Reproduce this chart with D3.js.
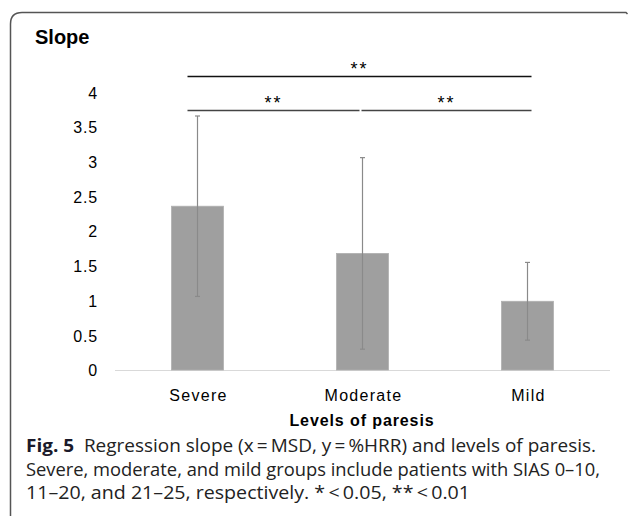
<!DOCTYPE html>
<html><head><meta charset="utf-8">
<script src="https://cdn.jsdelivr.net/npm/d3@7"></script>
<style>body{margin:0;background:#fff}svg{display:block}</style>
</head><body>
<svg id="c" width="629" height="521"></svg>
<script>
const categories = ["Severe", "Moderate", "Mild"];
const slopes = [2.36, 1.68, 0.99];
const errors = [1.30, 1.38, 0.56];
const yTicks = [0, 0.5, 1, 1.5, 2, 2.5, 3, 3.5, 4];
const sigPairs = [["Severe", "Mild", "**", 0], ["Severe", "Moderate", "**", 1], ["Moderate", "Mild", "**", 1]];
const captionLines = [
  ["Fig. 5", "  Regression slope (x\u2009=\u2009MSD, y\u2009=\u2009%HRR) and levels of paresis."],
  ["", "Severe, moderate, and mild groups include patients with SIAS 0\u201310,"],
  ["", "11\u201320, and 21\u201325, respectively. *\u2009<\u20090.05, **\u2009<\u20090.01"]
];

const svg = d3.select("#c");
const font = "'Liberation Sans', Arial, Helvetica, sans-serif";

// frame
svg.append("path")
  .attr("d", "M10.5,516 L10.5,24 Q10.5,12.5 22,12.5 L626,12.5 L627.5,14")
  .attr("fill", "none").attr("stroke", "#555").attr("stroke-width", 1.5);

const x = d3.scaleBand().domain(categories).range([115, 610]).paddingInner(0.685).paddingOuter(0.3425);
const y = d3.scaleLinear().domain([0, 4]).range([370, 92.4]);

// title
svg.append("text").attr("x", 35).attr("y", 44).text("Slope")
  .attr("font-family", font).attr("font-weight", "bold").attr("font-size", 20).attr("fill", "#000");

// y axis labels
const yAxis = d3.axisLeft(y).tickValues(yTicks).tickSize(0).tickPadding(0).tickFormat(d3.format("~g"));
const ga = svg.append("g").attr("transform", "translate(98,0)").call(yAxis);
ga.select(".domain").remove();
ga.selectAll("text").attr("font-family", font).attr("font-size", 16).attr("letter-spacing", 0.8)
  .attr("fill", "#000").attr("dy", "0.36em");

// baseline
svg.append("line").attr("x1", 115).attr("x2", 610).attr("y1", y(0) + 0.5).attr("y2", y(0) + 0.5)
  .attr("stroke", "#d9d9d9").attr("stroke-width", 1);

// bars
svg.selectAll("rect.bar").data(categories).join("rect").attr("class", "bar")
  .attr("x", d => x(d)).attr("width", x.bandwidth())
  .attr("y", (d, i) => y(slopes[i])).attr("height", (d, i) => y(0) - y(slopes[i]))
  .attr("fill", "#9f9f9f").attr("stroke", "#b0b0b0").attr("stroke-width", 0.8);

// error bars
const eg = svg.append("g").attr("stroke", "#8a8a8a").attr("stroke-width", 1.2);
categories.forEach((c, i) => {
  const cx = x(c) + x.bandwidth() / 2;
  const hi = y(slopes[i] + errors[i]), lo = y(slopes[i] - errors[i]);
  eg.append("line").attr("x1", cx).attr("x2", cx).attr("y1", hi).attr("y2", lo);
  eg.append("line").attr("x1", cx - 2.5).attr("x2", cx + 2.5).attr("y1", hi).attr("y2", hi);
  eg.append("line").attr("x1", cx - 2.5).attr("x2", cx + 2.5).attr("y1", lo).attr("y2", lo);
});

// category labels
svg.selectAll("text.cat").data(categories).join("text").attr("class", "cat")
  .attr("x", d => x(d) + x.bandwidth() / 2 + 1).attr("y", 401).attr("text-anchor", "middle")
  .attr("font-family", font).attr("font-size", 16).attr("letter-spacing", 1.3).attr("fill", "#000").text(d => d);

svg.append("text").attr("x", 362).attr("y", 426).attr("text-anchor", "middle")
  .attr("font-family", font).attr("font-weight", "bold").attr("font-size", 16).attr("letter-spacing", 0.9)
  .attr("fill", "#000").text("Levels of paresis");

// significance brackets
const levelY = [76.5, 110.5];
sigPairs.forEach(([a, b, s, lvl]) => {
  let x1 = x(a) + x.bandwidth() / 2 - 10, x2 = x(b) + x.bandwidth() / 2 + 4;
  if (lvl === 1 && a === "Severe") x2 = x(b) + x.bandwidth() / 2 - 3;
  if (lvl === 1 && a === "Moderate") x1 = x(a) + x.bandwidth() / 2 - 1;
  svg.append("line").attr("x1", x1).attr("x2", x2).attr("y1", levelY[lvl]).attr("y2", levelY[lvl])
    .attr("stroke", lvl === 0 ? "#111" : "#444").attr("stroke-width", 1.3);
  svg.append("text").attr("x", (x1 + x2) / 2).attr("y", levelY[lvl] - 2).attr("text-anchor", "middle")
    .attr("font-family", font).attr("font-size", 18).attr("letter-spacing", 2).attr("fill", "#000").text(s);
});

// caption
const capFont = "'Open Sans', 'Noto Sans', sans-serif";
const capWidths = [570, 574, 444];
captionLines.forEach((ln, i) => {
  const t = svg.append("text").attr("x", 26).attr("y", 452 + i * 23.5)
    .attr("font-family", capFont).attr("font-size", 18).attr("fill", "#222")
    .attr("textLength", capWidths[i]).attr("lengthAdjust", "spacingAndGlyphs");
  if (ln[0]) t.append("tspan").attr("font-weight", "bold").attr("fill", "#1a1a2a").text(ln[0]);
  t.append("tspan").attr("xml:space", "preserve").style("white-space", "pre").text(ln[1]);
});
</script>
</body></html>
